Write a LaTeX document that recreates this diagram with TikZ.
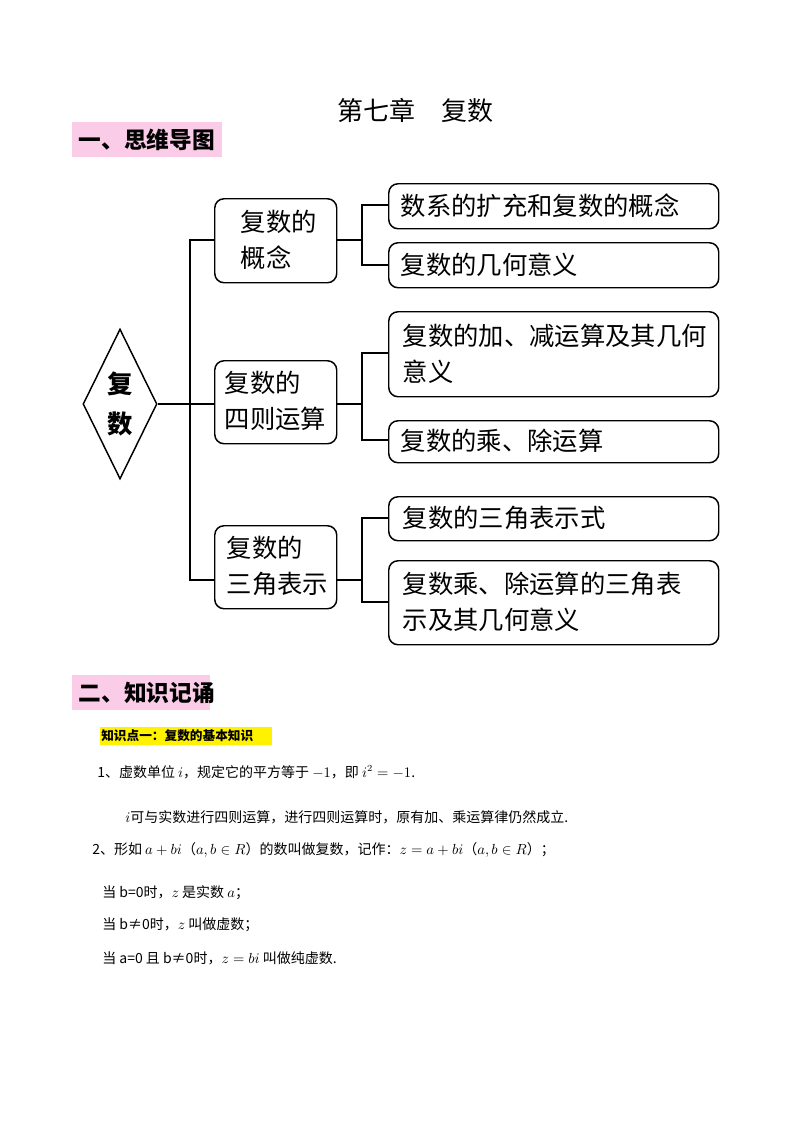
\documentclass[tikz,border=0pt]{standalone}
\usepackage{fontspec}
\setmainfont{Noto Sans CJK SC}
\usetikzlibrary{shapes.geometric}
\begin{document}
\begin{tikzpicture}[x=0.75pt,y=-0.75pt,
  rbox/.style={draw,line width=1.1pt,rounded corners=7pt,anchor=north west,inner sep=0pt},
  btxt/.style={font=\fontsize{19pt}{27pt}\selectfont,anchor=west,align=left},
  line/.style={line width=0.9pt},
  body/.style={font=\fontsize{10.5pt}{13pt}\selectfont,anchor=west,inner sep=0pt}]
\useasboundingbox (0,0) rectangle (800,1132);
\node (title) at (415,110) {\fontsize{19.5pt}{22pt}\selectfont 第七章\quad 复数};
\fill[magenta!20] (72,122) rectangle (222,157);
\node[anchor=west] (h1) at (74,139.5) {\fontsize{17pt}{20pt}\selectfont\bfseries 一、思维导图};
% diamond
\node[draw,line width=1.1pt,diamond,minimum width=74*0.75pt,minimum height=150*0.75pt,inner sep=0pt,aspect=0.5] (root) at (120,404) {};
\node[font=\fontsize{19pt}{30pt}\selectfont\bfseries,align=center] (rt) at (120,404) {复\\数};
% level1 boxes
\node[rbox,minimum width=122*0.75pt,minimum height=84*0.75pt] (b1) at (214,198) {};
\node[btxt] at (236,240) {复数的\\概念};
\node[rbox,minimum width=122*0.75pt,minimum height=83*0.75pt] (b2) at (214,360) {};
\node[btxt] at (220,401) {复数的\\四则运算};
\node[rbox,minimum width=122*0.75pt,minimum height=83*0.75pt] (b3) at (214,525) {};
\node[btxt] at (222,566) {复数的\\三角表示};
% right boxes
\node[rbox,minimum width=330*0.75pt,minimum height=45*0.75pt] (r1) at (388,183) {};
\node[btxt] at (396,205.5) {数系的扩充和复数的概念};
\node[rbox,minimum width=330*0.75pt,minimum height=45*0.75pt] (r2) at (388,242) {};
\node[btxt] at (396,264.5) {复数的几何意义};
\node[rbox,minimum width=330*0.75pt,minimum height=85*0.75pt] (r3) at (388,311) {};
\node[btxt] at (398,353.5) {复数的加、减运算及其几何\\意义};
\node[rbox,minimum width=330*0.75pt,minimum height=42*0.75pt] (r4) at (388,420) {};
\node[btxt] at (396,441) {复数的乘、除运算};
\node[rbox,minimum width=330*0.75pt,minimum height=44*0.75pt] (r5) at (388,496) {};
\node[btxt] at (398,518) {复数的三角表示式};
\node[rbox,minimum width=330*0.75pt,minimum height=84*0.75pt] (r6) at (388,560) {};
\node[btxt] at (398,602) {复数乘、除运算的三角表\\示及其几何意义};
% connectors
\coordinate (t1) at (190,240); \coordinate (t3) at (190,580);
\draw[line] (root.east) -- (190,404 |- root.east) -- (b2.west |- root.east);
\draw[line] (b1.west |- t1) -- (t1) -- (t3) -- (b3.west |- t3);
\draw[line] (b1.east |- t1) -- (362,240);
\draw[line] (r1.west |- 0,205) -| (362,265) -- (r2.west |- 0,265);
\draw[line] (b2.east |- 0,404) -- (362,404);
\draw[line] (r3.west |- 0,353) -| (362,440) -- (r4.west |- 0,440);
\draw[line] (b3.east |- 0,580) -- (362,580);
\draw[line] (r5.west |- 0,518) -| (362,602) -- (r6.west |- 0,602);
% section 2
\fill[magenta!20] (72,675) rectangle (210,710);
\node[anchor=west] (h2) at (74,692.5) {\fontsize{17pt}{20pt}\selectfont\bfseries 二、知识记诵};
\fill[yellow] (100,727) rectangle (272,745);
\node[anchor=west,inner sep=0pt] (k1) at (101,736) {\fontsize{9.5pt}{11pt}\selectfont\bfseries 知识点一：复数的基本知识};
\node[body] (l1) at (97,772) {1、虚数单位 $i$，规定它的平方等于 $-1$，即 $i^2=-1$.};
\node[body] (l2) at (125,817) {$i$可与实数进行四则运算，进行四则运算时，原有加、乘运算律仍然成立.};
\node[body] (l3) at (92,850) {2、形如 $a+bi$（$a,b\in R$）的数叫做复数，记作：$z=a+bi$（$a,b\in R$）；};
\node[body] (l4) at (102,893) {当 b=0时，$z$ 是实数 $a$；};
\node[body] (l5) at (102,925) {当 b≠0时，$z$ 叫做虚数；};
\node[body] (l6) at (102,958) {当 a=0 且 b≠0时，$z=bi$ 叫做纯虚数.};
\end{tikzpicture}
\end{document}
